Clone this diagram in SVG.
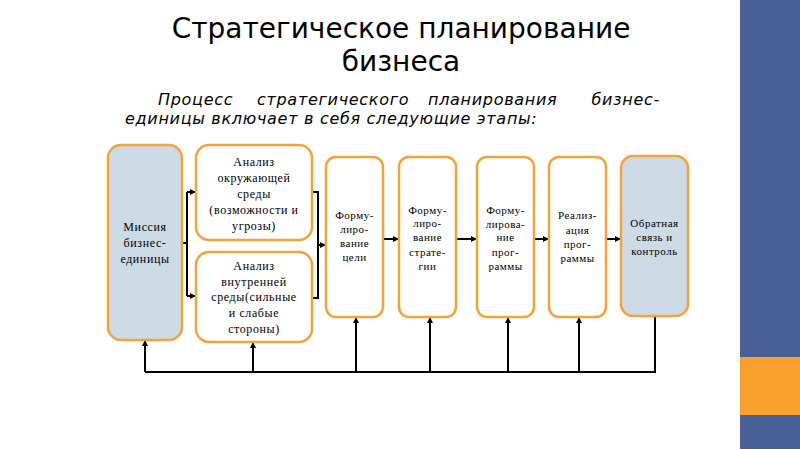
<svg xmlns="http://www.w3.org/2000/svg" width="800" height="449" viewBox="0 0 800 449">
<style>
.box{fill:#ffffff;stroke:#f2a43c;stroke-width:2.5}
.blue{fill:#cddbe7}
.t{font-family:"Liberation Serif","Times New Roman",serif;font-size:12px;letter-spacing:0.6px;fill:#000;text-anchor:middle}
.s{font-size:11px;letter-spacing:0.5px}
.ln{fill:none;stroke:#000;stroke-width:2}
.title{font-family:"DejaVu Sans",sans-serif;font-size:28px;fill:#000;text-anchor:middle}
.sub{font-family:"DejaVu Sans",sans-serif;font-style:italic;font-size:16px;letter-spacing:0.7px;fill:#000}
</style>
<defs>
<marker id="ah" viewBox="0 0 6 6" refX="5" refY="3" markerWidth="3" markerHeight="3" orient="auto" markerUnits="strokeWidth">
<path d="M0,0 L6,3 L0,6 z" fill="#000"/>
</marker>
</defs>
<rect x="0" y="0" width="800" height="449" fill="#ffffff"/>
<rect x="740" y="0" width="60" height="449" fill="#4a5f96"/>
<rect x="740" y="357" width="60" height="58" fill="#f7a12c"/>

<text class="title" x="401" y="38">Стратегическое планирование</text>
<text class="title" x="401" y="71">бизнеса</text>
<text class="sub" x="158" y="105">Процесс</text>
<text class="sub" x="257" y="105">стратегического</text>
<text class="sub" x="428" y="105">планирования</text>
<text class="sub" x="660" y="105" text-anchor="end">бизнес-</text>
<text class="sub" x="125" y="124">единицы включает в себя следующие этапы:</text>

<g id="connectors">
<path class="ln" d="M182,243 H187 M187,192 V296"/>
<path class="ln" d="M187,192 H195" marker-end="url(#ah)"/>
<path class="ln" d="M187,296 H195" marker-end="url(#ah)"/>
<path class="ln" d="M312,192 H318 V298 H312"/>
<path class="ln" d="M318,245 H325" marker-end="url(#ah)"/>
<path class="ln" d="M383,239 H398" marker-end="url(#ah)"/>
<path class="ln" d="M456,239 H476" marker-end="url(#ah)"/>
<path class="ln" d="M534,239 H548" marker-end="url(#ah)"/>
<path class="ln" d="M606,239 H620" marker-end="url(#ah)"/>
<path class="ln" d="M655,316 V372 H145"/>
<path class="ln" d="M145,372 V341" marker-end="url(#ah)"/>
<path class="ln" d="M253,372 V343" marker-end="url(#ah)"/>
<path class="ln" d="M356,372 V318" marker-end="url(#ah)"/>
<path class="ln" d="M430,372 V318" marker-end="url(#ah)"/>
<path class="ln" d="M508,372 V318" marker-end="url(#ah)"/>
<path class="ln" d="M579,372 V318" marker-end="url(#ah)"/>
</g>

<g id="mission">
<rect class="box blue" x="108" y="145" width="74" height="195" rx="13"/>
<text class="t"><tspan x="145" y="231">Миссия</tspan><tspan x="145" y="247">бизнес-</tspan><tspan x="145" y="263">единицы</tspan></text>
</g>
<g id="env">
<rect class="box" x="196" y="145" width="116" height="95" rx="13"/>
<text class="t"><tspan x="254" y="166">Анализ</tspan><tspan x="254" y="182">окружающей</tspan><tspan x="254" y="198">среды</tspan><tspan x="254" y="214">(возможности и</tspan><tspan x="254" y="230">угрозы)</tspan></text>
</g>
<g id="internal">
<rect class="box" x="196" y="252" width="116" height="90" rx="13"/>
<text class="t"><tspan x="254" y="270">Анализ</tspan><tspan x="254" y="286">внутренней</tspan><tspan x="254" y="301">среды(сильные</tspan><tspan x="254" y="317">и слабые</tspan><tspan x="254" y="333">стороны)</tspan></text>
</g>
<g id="goal">
<rect class="box" x="326" y="157" width="57" height="160" rx="10"/>
<text class="t s"><tspan x="354.5" y="219">Форму-</tspan><tspan x="354.5" y="233">лиро-</tspan><tspan x="354.5" y="247">вание</tspan><tspan x="354.5" y="261">цели</tspan></text>
</g>
<g id="strategy">
<rect class="box" x="399" y="157" width="57" height="160" rx="10"/>
<text class="t s"><tspan x="427.5" y="214">Форму-</tspan><tspan x="427.5" y="227">лиро-</tspan><tspan x="427.5" y="241">вание</tspan><tspan x="427.5" y="256">страте-</tspan><tspan x="427.5" y="270">гии</tspan></text>
</g>
<g id="programs">
<rect class="box" x="477" y="157" width="57" height="160" rx="10"/>
<text class="t s"><tspan x="505.5" y="214">Форму-</tspan><tspan x="505.5" y="228">лирова-</tspan><tspan x="505.5" y="241">ние</tspan><tspan x="505.5" y="256">прог-</tspan><tspan x="505.5" y="270">раммы</tspan></text>
</g>
<g id="realization">
<rect class="box" x="549" y="157" width="57" height="160" rx="10"/>
<text class="t s"><tspan x="577.5" y="219">Реализ-</tspan><tspan x="577.5" y="234">ация</tspan><tspan x="577.5" y="248">прог-</tspan><tspan x="577.5" y="262">раммы</tspan></text>
</g>
<g id="feedback">
<rect class="box blue" x="621" y="156" width="67" height="160" rx="12"/>
<text class="t s"><tspan x="654.5" y="227">Обратная</tspan><tspan x="654.5" y="241">связь и</tspan><tspan x="654.5" y="255">контроль</tspan></text>
</g>
</svg>
